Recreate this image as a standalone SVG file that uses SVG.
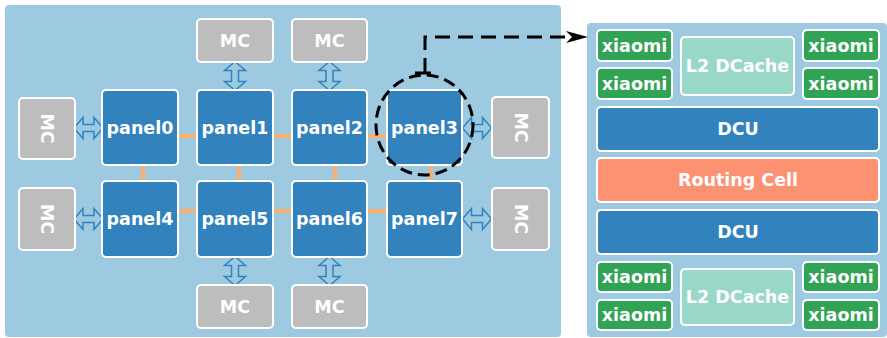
<svg xmlns="http://www.w3.org/2000/svg" width="887" height="338" viewBox="0 0 887 338">
<style>
text{font-family:"DejaVu Sans","Liberation Sans",sans-serif;font-weight:bold;font-size:17.5px;fill:#fff;text-anchor:middle;dominant-baseline:central}
.panel{fill:#3182bd;stroke:#fff;stroke-width:2}
.mc{fill:#bdbdbd;stroke:#fff;stroke-width:2}
.x{fill:#31a354;stroke:#fff;stroke-width:2}
.l2{fill:#99d8c9;stroke:#fff;stroke-width:2}
.rc{fill:#fc9272;stroke:#fff;stroke-width:2}
.or{stroke:#fdae6b;stroke-width:4;fill:none}
.dbl{fill:none;stroke:#3182bd;stroke-width:1.5}
</style>
<defs>
<path id="dbl" d="M-14.5,0 L-5.5,-10.5 L-5.5,-3.5 L5.5,-3.5 L5.5,-10.5 L14.5,0 L5.5,10.5 L5.5,3.5 L-5.5,3.5 L-5.5,10.5 Z"/>
<marker id="ah" viewBox="0 0 22 12" refX="6" refY="6" markerWidth="22" markerHeight="12" orient="auto" markerUnits="userSpaceOnUse"><path d="M0,0 L22,6 L0,12 L6,6 Z" fill="#000"/></marker>
</defs>
<rect x="5" y="5" width="556" height="332" rx="4" fill="#9ecae1"/>
<rect x="587" y="23" width="300" height="314" rx="4" fill="#9ecae1"/>
<g id="connectors">
<path class="or" d="M178,136H197M273,136H292M367,136H387M178,211H197M273,211H292M367,211H387M143,165V181M239,165V181M335,165V181M431,165V181"/>
<use href="#dbl" class="dbl" transform="translate(88.5,128)"/>
<use href="#dbl" class="dbl" transform="translate(477,128)"/>
<use href="#dbl" class="dbl" transform="translate(88.5,219)"/>
<use href="#dbl" class="dbl" transform="translate(477,219)"/>
<use href="#dbl" class="dbl" transform="translate(235,76) rotate(90)"/>
<use href="#dbl" class="dbl" transform="translate(329.5,76) rotate(90)"/>
<use href="#dbl" class="dbl" transform="translate(235,271) rotate(90)"/>
<use href="#dbl" class="dbl" transform="translate(329.5,271) rotate(90)"/>
</g>
<g id="mc-t1"><rect class="mc" x="197" y="19" width="76" height="43" rx="4"/><text x="235" y="40.5">MC</text></g>
<g id="mc-t2"><rect class="mc" x="292" y="19" width="75" height="43" rx="4"/><text x="329.5" y="40.5">MC</text></g>
<g id="mc-b1"><rect class="mc" x="197" y="285" width="76" height="43" rx="4"/><text x="235" y="306.5">MC</text></g>
<g id="mc-b2"><rect class="mc" x="292" y="285" width="75" height="43" rx="4"/><text x="329.5" y="306.5">MC</text></g>
<g id="mc-l1"><rect class="mc" x="19" y="98" width="56" height="61" rx="4"/><text transform="translate(47,128.5) rotate(90)">MC</text></g>
<g id="mc-l2"><rect class="mc" x="19" y="188" width="56" height="62" rx="4"/><text transform="translate(47,219) rotate(90)">MC</text></g>
<g id="mc-r1"><rect class="mc" x="492" y="97" width="57" height="61" rx="4"/><text transform="translate(520.5,127.5) rotate(90)">MC</text></g>
<g id="mc-r2"><rect class="mc" x="492" y="188" width="57" height="62" rx="4"/><text transform="translate(520.5,219) rotate(90)">MC</text></g>
<g id="panel0"><rect class="panel" x="102" y="90" width="76" height="75" rx="4"/><text x="140" y="127.5">panel0</text></g>
<g id="panel1"><rect class="panel" x="197" y="90" width="76" height="75" rx="4"/><text x="235" y="127.5">panel1</text></g>
<g id="panel2"><rect class="panel" x="292" y="90" width="75" height="75" rx="4"/><text x="329.5" y="127.5">panel2</text></g>
<g id="panel3"><rect class="panel" x="387" y="90" width="75" height="75" rx="4"/><text x="424.5" y="127.5">panel3</text></g>
<g id="panel4"><rect class="panel" x="102" y="181" width="76" height="76" rx="4"/><text x="140" y="219">panel4</text></g>
<g id="panel5"><rect class="panel" x="197" y="181" width="76" height="76" rx="4"/><text x="235" y="219">panel5</text></g>
<g id="panel6"><rect class="panel" x="292" y="181" width="75" height="76" rx="4"/><text x="329.5" y="219">panel6</text></g>
<g id="panel7"><rect class="panel" x="387" y="181" width="75" height="76" rx="4"/><text x="424.5" y="219">panel7</text></g>
<g id="highlight">
<ellipse cx="424.5" cy="125" rx="48.5" ry="50" fill="none" stroke="#000" stroke-width="3" stroke-dasharray="12,6"/>
<path d="M425,73V37H572" fill="none" stroke="#000" stroke-width="3" stroke-dasharray="15,8" marker-end="url(#ah)"/>
<path d="M415,73H431" stroke="#000" stroke-width="3"/>
</g>
<g id="x1"><rect class="x" x="597" y="30" width="75" height="31" rx="4"/><text x="634.5" y="45.5">xiaomi</text></g>
<g id="x2"><rect class="x" x="597" y="68" width="75" height="31" rx="4"/><text x="634.5" y="83.5">xiaomi</text></g>
<g id="x3"><rect class="x" x="803" y="30" width="76" height="31" rx="4"/><text x="841" y="45.5">xiaomi</text></g>
<g id="x4"><rect class="x" x="803" y="68" width="76" height="31" rx="4"/><text x="841" y="83.5">xiaomi</text></g>
<g id="l2a"><rect class="l2" x="681" y="37" width="113" height="58" rx="4"/><text x="737.5" y="66">L2 DCache</text></g>
<g id="dcu1"><rect class="panel" x="597" y="107" width="282" height="44" rx="4"/><text x="738" y="129">DCU</text></g>
<g id="rc"><rect class="rc" x="597" y="158" width="282" height="44" rx="4"/><text x="738" y="180">Routing Cell</text></g>
<g id="dcu2"><rect class="panel" x="597" y="210" width="282" height="44" rx="4"/><text x="738" y="232">DCU</text></g>
<g id="x5"><rect class="x" x="597" y="262" width="75" height="30" rx="4"/><text x="634.5" y="277">xiaomi</text></g>
<g id="x6"><rect class="x" x="597" y="300" width="75" height="30" rx="4"/><text x="634.5" y="315">xiaomi</text></g>
<g id="x7"><rect class="x" x="803" y="262" width="76" height="30" rx="4"/><text x="841" y="277">xiaomi</text></g>
<g id="x8"><rect class="x" x="803" y="300" width="76" height="30" rx="4"/><text x="841" y="315">xiaomi</text></g>
<g id="l2b"><rect class="l2" x="681" y="269" width="113" height="56" rx="4"/><text x="737.5" y="297">L2 DCache</text></g>
</svg>
